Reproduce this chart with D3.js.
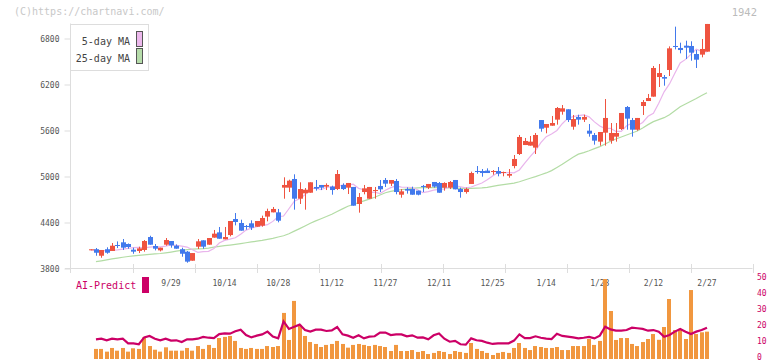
<!DOCTYPE html>
<html>
<head>
<meta charset="utf-8">
<script src="https://cdn.jsdelivr.net/npm/d3@7"></script>
<style>
body { margin: 0; background: white; }
text { font-family: "DejaVu Sans Mono", monospace; }
</style>
</head>
<body>
<div id="paper"></div>
<script>

// daily candles, index 0 .. 115 (last one is 2/27).

const opens = [4044,4045,3960,4045,4022,4100,4135,4113,4039,4022,
    4035,4204,4087,4030,4104,4152,4091,4045,4013,3895,
    4078,4161,4104,4196,4265,4174,4230,4439,4387,4348,
    4383,4339,4352,4470,4526,4526,4848,4848,4961,4704,
    4774,4782,4857,4883,4861,4861,4830,4883,4848,4857,
    4635,4791,4704,4817,4870,4948,4900,4935,4756,4830,
    4830,4809,4870,4848,4922,4909,4848,4848,4948,4830,
    4791,4896,5065,5065,5070,5052,5065,5043,5004,5130,
    5287,5404,5396,5370,5730,5630,5656,5735,5839,5870,
    5643,5770,5735,5591,5535,5448,5565,5461,5513,5613,
    5900,5730,5604,5913,5978,6035,6291,6291,6383,6696,
    6670,6700,6696,6591,6583,6622]

const highs = [4044,4061,4035,4070,4126,4147,4178,4120,4065,4078,
    4165,4221,4113,4065,4191,4152,4108,4065,4022,3995,
    4178,4161,4191,4296,4335,4335,4413,4517,4430,4361,
    4422,4413,4483,4574,4596,4570,4983,4952,5022,4918,
    4843,4918,4948,4883,4904,4874,5078,4904,4909,4857,
    4778,4883,4857,4857,4948,4974,4948,4961,4830,4852,
    4861,4809,4883,4896,4922,4922,4918,4935,4948,4848,
    4848,5057,5130,5091,5100,5078,5117,5057,5091,5274,
    5535,5496,5522,5561,5730,5678,5783,5900,5926,5870,
    5796,5800,5800,5678,5561,5574,6004,5691,5691,5822,
    5913,5757,5757,5991,6070,6435,6461,6317,6691,6948,
    6739,6765,6757,6643,6787,6983]

const lows = [4044,3960,3934,3986,4022,4060,4035,4052,3986,3995,
    4013,4104,4030,4017,4091,4065,4052,3947,3869,3895,
    4048,4052,4104,4196,4182,4174,4213,4356,4287,4300,
    4296,4339,4339,4409,4526,4396,4704,4791,4561,4635,
    4561,4782,4809,4817,4817,4756,4817,4817,4765,4613,
    4522,4761,4704,4704,4791,4857,4870,4761,4717,4770,
    4756,4748,4791,4830,4848,4782,4809,4830,4826,4717,
    4770,4896,5030,4991,5039,5017,4996,4996,4978,5100,
    5274,5404,5396,5287,5578,5557,5656,5670,5800,5704,
    5604,5670,5704,5513,5409,5396,5396,5422,5448,5600,
    5604,5513,5591,5796,5978,6035,6161,6178,6304,6652,
    6600,6526,6504,6409,6548,6622]

const closes = [4044,3999,4035,3999,4091,4095,4065,4074,4013,4056,
    4152,4104,4052,4065,4165,4095,4052,3986,3883,3995,
    4148,4078,4191,4248,4182,4204,4413,4400,4287,4335,
    4326,4413,4452,4543,4570,4417,4883,4939,4704,4830,
    4821,4918,4835,4848,4883,4817,5026,4830,4909,4613,
    4726,4839,4857,4817,4826,4900,4948,4791,4800,4809,
    4756,4756,4857,4896,4861,4782,4909,4922,4826,4791,
    4830,5039,5052,5039,5039,5065,5030,5052,5026,5222,
    5509,5457,5448,5535,5617,5678,5691,5887,5883,5730,
    5743,5735,5770,5552,5461,5574,5757,5561,5561,5822,
    5748,5604,5757,5965,6017,6409,6343,6270,6665,6683,
    6643,6674,6609,6517,6657,6983]

// moving averages.

const ma5 = [4035,4030,4026,4026,4030,4036,4046,4057,4065,4068,
    4062,4072,4080,4076,4086,4100,4095,4085,4073,4038,
    4005,4013,4017,4055,4125,4160,4176,4195,4240,4294,
    4320,4340,4352,4365,4408,4470,4478,4573,4670,4703,
    4755,4835,4842,4822,4850,4861,4860,4882,4881,4893,
    4839,4821,4783,4789,4770,4813,4848,4870,4856,4853,
    4850,4821,4782,4796,4815,4825,4830,4861,4874,4860,
    4846,4856,4882,4908,4950,5000,5047,5045,5045,5042,
    5079,5168,5253,5332,5434,5513,5547,5594,5682,5751,
    5774,5787,5796,5772,5706,5652,5618,5623,5581,5583,
    5655,5690,5659,5698,5779,5818,5950,6098,6201,6341,
    6474,6521,6587,6655,6625,6620]

const ma25 = [null,3882,3894,3906,3918,3929,3940,3950,3957,3964,
    3971,3977,3983,3989,3998,4008,4019,4029,4039,4045,
    4049,4053,4060,4072,4083,4091,4099,4108,4118,4129,
    4140,4150,4161,4174,4187,4204,4221,4247,4281,4314,
    4348,4383,4415,4443,4471,4501,4536,4571,4605,4629,
    4652,4676,4699,4722,4752,4781,4800,4813,4822,4830,
    4838,4846,4848,4848,4848,4848,4848,4845,4842,4839,
    4839,4839,4842,4845,4852,4865,4878,4888,4898,4907,
    4925,4948,4970,4992,5016,5040,5070,5112,5154,5200,
    5245,5285,5305,5330,5357,5383,5418,5453,5483,5509,
    5535,5561,5587,5626,5670,5709,5735,5761,5800,5852,
    5904,5939,5974,6010,6049,6087]

// AI-Predict panel, days 1 .. 115.

const ai_bars = [6.3,6.3,4.6,6.9,5.2,6.9,4.6,6.7,6.3,13.5,
    8.1,5.8,4.6,7.3,5.2,5.2,5.2,6.9,5.2,8.1,
    6.3,8.8,6.9,13.1,13.8,14.4,11.3,6.9,6.3,6.9,
    6.3,6.3,8.1,7.5,8.1,28.8,11.9,36.3,21.3,14.4,
    10.6,9.4,7.5,8.8,9.4,11.3,9.4,7.1,8.8,9.4,
    8.8,8.1,8.8,8.1,7.5,5.0,8.8,5.0,5.0,5.6,
    4.4,5.0,3.1,3.8,5.0,4.4,3.1,5.0,4.4,3.8,
    10.0,6.3,5.0,3.8,2.5,3.8,4.4,3.8,6.9,10.0,
    6.9,5.6,8.1,7.5,6.9,6.9,7.5,5.6,5.6,8.1,
    8.1,8.1,12.5,8.8,11.3,50,30,11.9,13.1,13.1,
    9.4,8.1,10.6,12.5,15.6,12,20,37.5,18.1,18.8,
    12.5,43.1,15.6,16.7,17.1]

const ai_line = [12.3,12.7,11.7,12.7,12.3,12.7,9.8,9.8,9.2,13.5,
    14.4,12.7,11.7,12.7,11.5,11.7,10.6,12.3,12.3,12.7,
    13.8,13.3,13.1,15.6,16.0,15.8,17.3,18.3,15.0,13.5,
    14.6,15.4,17.1,14.0,12.9,23.5,18.8,20.2,21.5,18.1,
    17.1,18.3,18.3,17.5,17.9,20.0,15.4,14.6,13.3,14.8,
    12.9,14.0,14.2,16.5,16.5,15.0,15.4,15.4,14.2,14.8,
    13.3,13.5,12.3,14.8,16.0,12.7,10.8,11.3,9.2,9.0,
    12.9,11.7,11.3,10.2,9.4,9.8,9.8,9.8,11.5,15.4,
    13.1,13.1,14.2,13.3,12.7,12.5,15.8,14.4,14.0,13.5,
    12.9,13.3,13.8,12.9,14.6,20.2,18.5,17.7,17.7,18.1,
    19.6,19.2,18.8,17.7,18.1,17.1,13.9,15.0,17.1,18.8,
    17.1,15.6,17.1,18.1,19.6]

// tick labels.

const date_labels = ["9/29","10/14","10/28","11/12","11/27","12/11","12/25","1/14","1/28","2/12","2/27"]
const date_label_days = [15,25,35,45,55,65,75,85,95,105,115]
const price_ticks = [3800,4400,5000,5600,6200,6800]
const ai_ticks = [0,10,20,30,40,50]

const up_color = "#ef5340"
const down_color = "#4279ec"
const ai_color = "#cc0066"

// canvas.

let svg = d3.select("#paper")
    .append("svg")
    .attr("id", "canvas")
    .attr("width", 772)
    .attr("height", 361)
    .style("background-color", "white")

// scales.

let x = d3.scaleLinear().domain([0, 115]).range([90.6, 707])
let y = d3.scaleLinear().domain([3800, 6800]).range([268, 38])
let y_ai = d3.scaleLinear().domain([0, 50]).range([359, 279])
let grid = d3.scaleLinear().domain([0, 11]).range([70.5, 752.5])

// header texts.

svg.append("text")
    .attr("x", 14).attr("y", 15)
    .style("font-size", "10px").style("fill", "#c8c8c8")
    .text("(C)https://chartnavi.com/")

svg.append("text")
    .attr("x", 757).attr("y", 16)
    .attr("text-anchor", "end")
    .style("font-size", "10.5px").style("fill", "#bbb")
    .text("1942")

// price axis.

let y_axis = d3.axisLeft(y).tickValues(price_ticks).tickFormat(d3.format("d"))
    .tickSize(6).tickSizeOuter(0).tickPadding(5)
let y_g = svg.append("g").attr("transform", "translate(70.5,0.5)").call(y_axis)
y_g.select(".domain").remove()
y_g.selectAll("line").attr("stroke", "#ddd")
y_g.selectAll("text").style("font-size", "8px").style("fill", "#555").style("font-family", "DejaVu Sans Mono")

svg.append("line")
    .attr("x1", 70.5).attr("x2", 70.5).attr("y1", 23.5).attr("y2", 273)
    .attr("stroke", "#ddd")

svg.append("line")
    .attr("x1", 65).attr("x2", 752.5).attr("y1", 268.5).attr("y2", 268.5)
    .attr("stroke", "#ddd")

svg.selectAll(".grid_tick")
    .data(d3.range(1, 12))
    .join("line")
    .attr("class", "grid_tick")
    .attr("x1", d => Math.round(grid(d)) + 0.5)
    .attr("x2", d => Math.round(grid(d)) + 0.5)
    .attr("y1", 264).attr("y2", 273)
    .attr("stroke", "#ddd")

// moving averages (drawn under the candles).

let ma_line = d3.line()
    .defined(d => d != null)
    .x((d, i) => x(i))
    .y(d => y(d))

svg.append("path")
    .attr("d", ma_line(ma25))
    .attr("fill", "none").attr("stroke", "#b3dca5").attr("stroke-width", 1.2)

svg.append("path")
    .attr("d", ma_line(ma5))
    .attr("fill", "none").attr("stroke", "#e9b5ec").attr("stroke-width", 1.2)

// candles.

let days = d3.range(opens.length)

svg.selectAll(".wick")
    .data(days)
    .join("rect")
    .attr("class", "wick")
    .attr("x", i => Math.round(x(i)))
    .attr("y", i => y(highs[i]))
    .attr("width", 1)
    .attr("height", i => Math.max(1, y(lows[i]) - y(highs[i])))
    .style("fill", i => closes[i] >= opens[i] ? up_color : down_color)

svg.selectAll(".body")
    .data(days)
    .join("rect")
    .attr("class", "body")
    .attr("x", i => Math.round(x(i)) - 2)
    .attr("y", i => y(Math.max(opens[i], closes[i])))
    .attr("width", 5)
    .attr("height", i => Math.max(1, Math.abs(y(opens[i]) - y(closes[i]))))
    .style("fill", i => closes[i] >= opens[i] ? up_color : down_color)

// legend.

svg.append("rect")
    .attr("x", 70.5).attr("y", 24.5).attr("width", 78).attr("height", 46)
    .attr("fill", "white").attr("stroke", "#ddd")

let legend = [["5-day MA", "#ecb8ec", 31.5, 45], ["25-day MA", "#b6dcaa", 48.5, 62]]

svg.selectAll(".legend_swatch")
    .data(legend)
    .join("rect")
    .attr("class", "legend_swatch")
    .attr("x", 136.5).attr("y", d => d[2])
    .attr("width", 6).attr("height", 15)
    .attr("fill", d => d[1]).attr("stroke", "#555")

svg.selectAll(".legend_text")
    .data(legend)
    .join("text")
    .attr("class", "legend_text")
    .attr("x", 130).attr("y", d => d[3])
    .attr("text-anchor", "end")
    .style("font-size", "10px").style("fill", "#444")
    .text(d => d[0])

// date labels.

svg.selectAll(".date_label")
    .data(date_labels)
    .join("text")
    .attr("class", "date_label")
    .attr("x", (d, i) => x(date_label_days[i]))
    .attr("y", 285.5)
    .attr("text-anchor", "middle")
    .style("font-size", "8px").style("fill", "#555")
    .text(d => d)

// AI-Predict panel.

svg.append("text")
    .attr("x", 76).attr("y", 289)
    .style("font-size", "10px").style("fill", ai_color)
    .text("AI-Predict")

svg.append("rect")
    .attr("x", 142).attr("y", 277).attr("width", 7).attr("height", 16)
    .attr("fill", ai_color)

svg.selectAll(".ai_bar")
    .data(ai_bars)
    .join("rect")
    .attr("class", "ai_bar")
    .attr("x", (d, i) => Math.round(x(i + 1)) - 2)
    .attr("y", d => y_ai(d))
    .attr("width", 4)
    .attr("height", d => y_ai(0) - y_ai(d))
    .style("fill", "#f1973f")

svg.append("path")
    .attr("d", d3.line().x((d, i) => x(i + 1)).y(d => y_ai(d))(ai_line))
    .attr("fill", "none").attr("stroke", ai_color).attr("stroke-width", 2.2)

svg.selectAll(".ai_tick")
    .data(ai_ticks)
    .join("text")
    .attr("class", "ai_tick")
    .attr("x", 757)
    .attr("y", d => y_ai(d) - 2)
    .attr("dy", "0.35em")
    .style("font-size", "8px").style("fill", ai_color)
    .text(d => d)

</script>
</body>
</html>
